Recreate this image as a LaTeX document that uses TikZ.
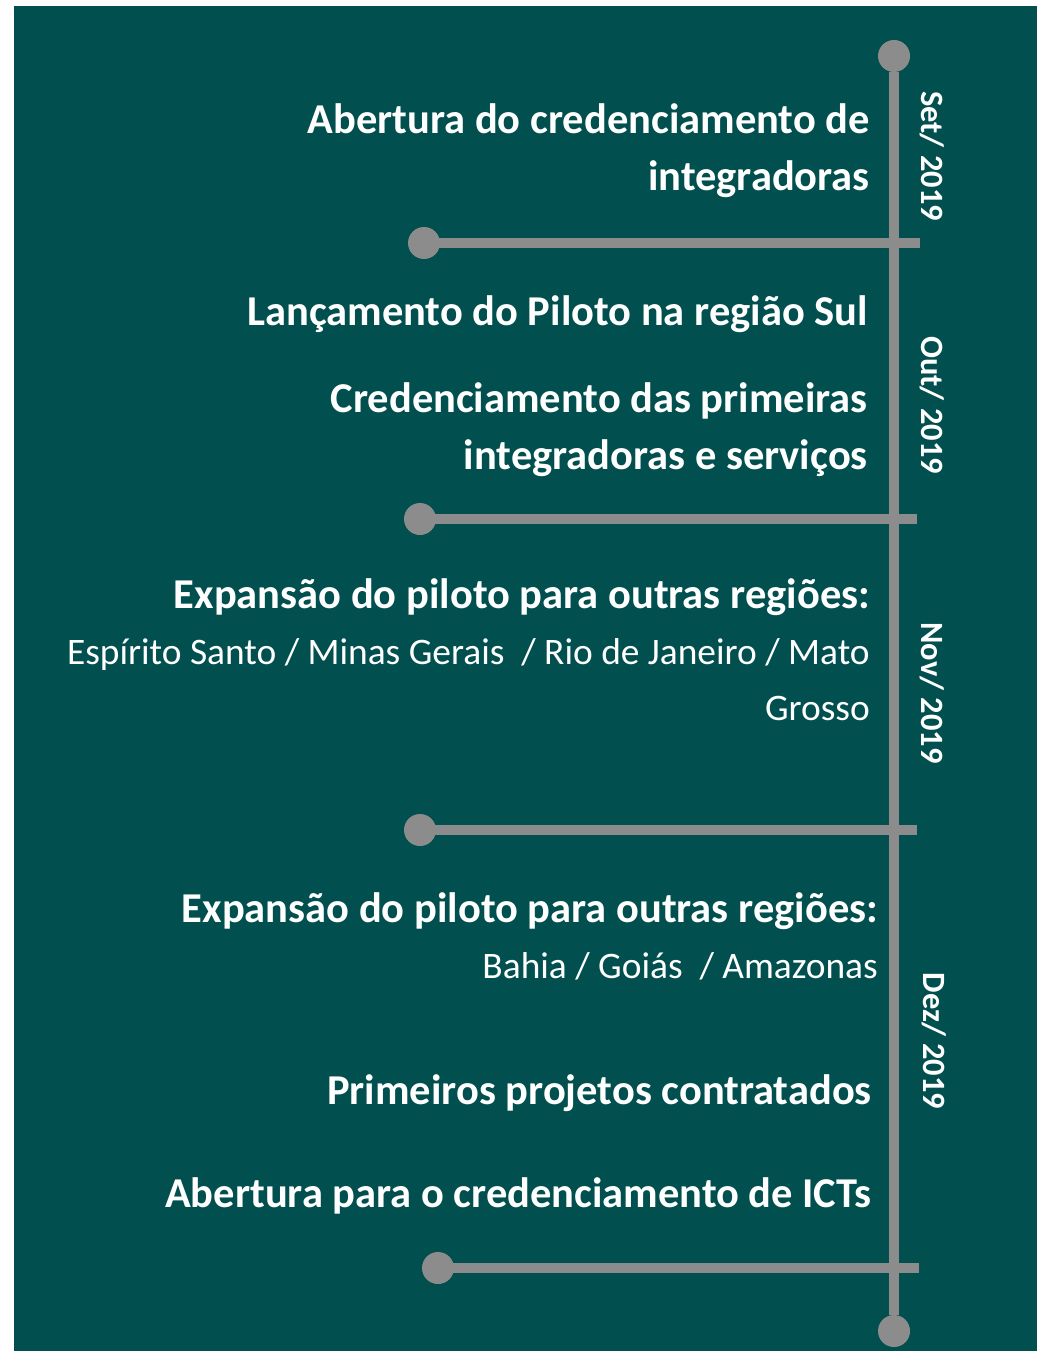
\documentclass[tikz,border=0pt]{standalone}
\usepackage{fontspec}
\setmainfont{Carlito}
\usetikzlibrary{positioning,calc}
\definecolor{bg_teal}{HTML}{01504F}
\definecolor{line_gray}{HTML}{8C8C8C}
\tikzset{
    time_line/.style={
        draw=line_gray,
        line width=10.5pt
    },
    time_dot/.style={
        circle,
        fill=line_gray,
        minimum size=32pt,
        inner sep=0pt
    },
    event/.style={
        anchor=east,
        align=right,
        text=white,
        inner sep=0pt,
        font=\bfseries\fontsize{42.5}{57}\selectfont
    },
    detail/.style={
        anchor=east,
        align=right,
        text=white,
        inner sep=0pt,
        font=\fontsize{37.4}{56}\selectfont
    },
    month/.style={
        rotate=-90,
        text=white,
        inner sep=0pt,
        font=\bfseries\fontsize{32.5}{36}\selectfont
    },
}

\begin{document}
\begin{tikzpicture}[x=1pt, y=-1pt]
    \useasboundingbox (0,0) rectangle (1044,1351);
    \fill[bg_teal] (14,6) rectangle (1037,1351);

    % timeline
    \node[time_dot] (top) at (894,56) {};
    \node[time_dot] (bottom) at (894,1331) {};
    \draw[time_line] (top) -- (bottom);

    \node[time_dot] (sep1) at (424,243) {};
    \node[time_dot] (sep2) at (420,519) {};
    \node[time_dot] (sep3) at (420,830) {};
    \node[time_dot] (sep4) at (438,1268) {};
    \coordinate[] (end1) at (920,243);
    \coordinate[] (end2) at (917,519);
    \coordinate[] (end3) at (917,830);
    \coordinate[] (end4) at (919,1268);
    \foreach \i in {1,...,4}
        \draw[time_line] (sep\i.center) -- (end\i);

    % months
    \node[month] (set) at (932,156) {Set/ 2019};
    \node[month] (out) at (932,405) {Out/ 2019};
    \node[month] (nov) at (932,693) {Nov/ 2019};
    \node[month] (dez) at (934,1041) {Dez/ 2019};

    % events
    \node[event] (ev1) at (870,151) {Abertura do credenciamento de\\integradoras};
    \node[event] (ev2) at (868,314) {Lançamento do Piloto na região Sul};
    \node[event] (ev3) at (868,430) {Credenciamento das primeiras\\integradoras e serviços};
    \node[event] (ev4) at (870,597) {Expansão do piloto para outras regiões:};
    \node[detail] (det4) at (870,680) {Espírito Santo / Minas Gerais~ / Rio de Janeiro / Mato\\Grosso};
    \node[event] (ev5) at (878,911) {Expansão do piloto para outras regiões:};
    \node[detail] (det5) at (878,966) {Bahia / Goiás~ / Amazonas};
    \node[event] (ev6) at (872,1093) {Primeiros projetos contratados};
    \node[event] (ev7) at (872,1196) {Abertura para o credenciamento de ICTs};
\end{tikzpicture}
\end{document}
